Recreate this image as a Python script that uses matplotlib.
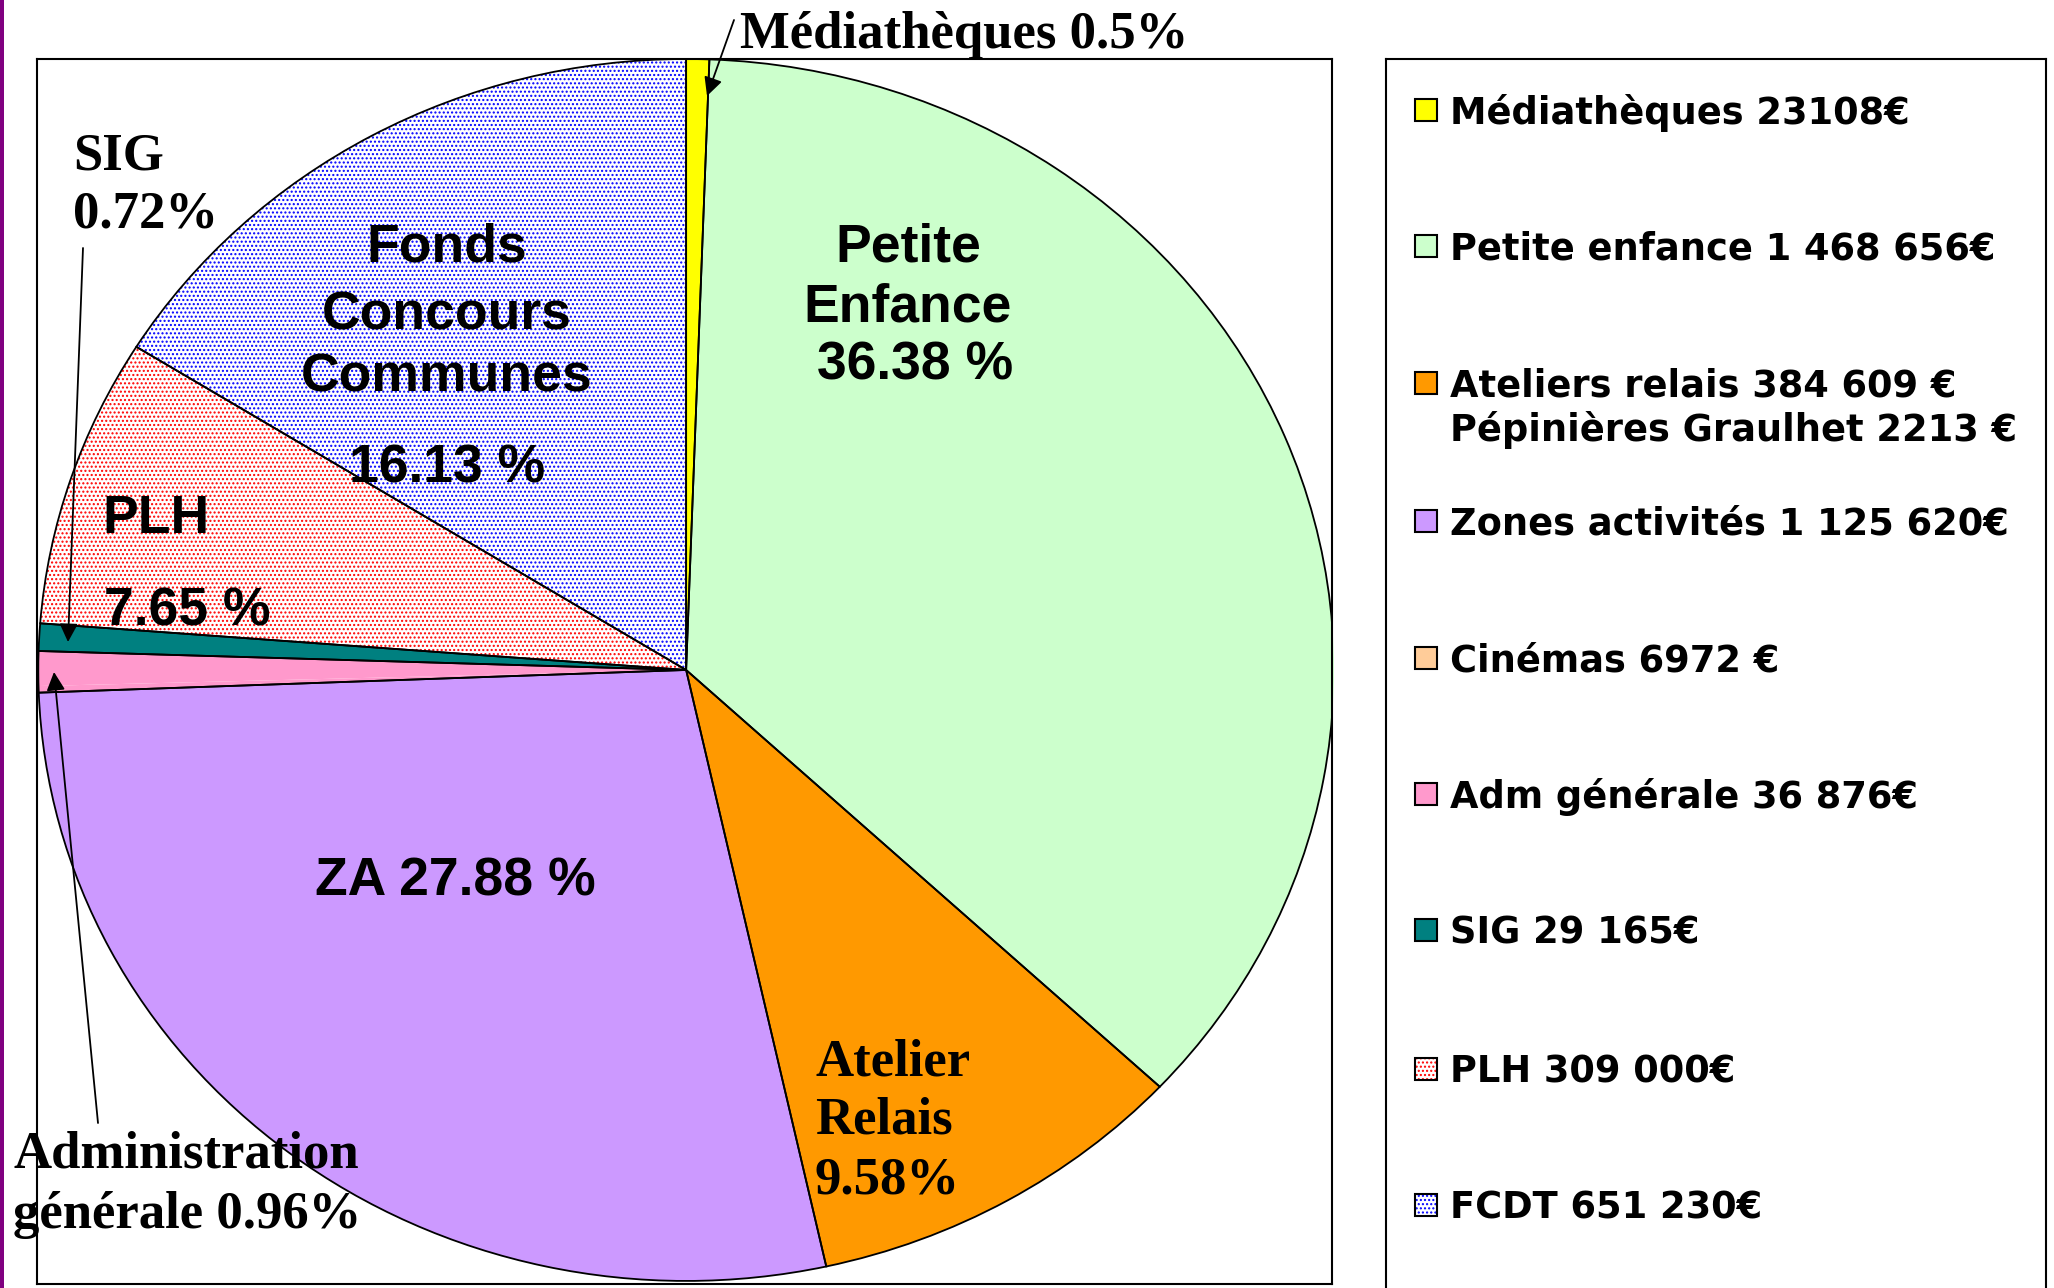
import matplotlib
matplotlib.use('Agg')
import matplotlib.pyplot as plt
from matplotlib.patches import Rectangle, Wedge

W, H = 2054, 1288

# ---------------- data ----------------
categories = ['Médiathèques', 'Petite enfance', 'Ateliers relais', 'Zones activités',
              'Cinémas', 'Adm générale', 'SIG', 'PLH', 'FCDT']
ateliers_relais = 384609
pepinieres_graulhet = 2213
values = [23108, 1468656, ateliers_relais + pepinieres_graulhet, 1125620,
          6972, 36876, 29165, 309000, 651230]
legend_labels = ['Médiathèques 23108€', 'Petite enfance 1 468 656€',
                 'Ateliers relais 384 609 €\nPépinières Graulhet 2213 €',
                 'Zones activités 1 125 620€', 'Cinémas 6972 €', 'Adm générale 36 876€',
                 'SIG 29 165€', 'PLH 309 000€', 'FCDT 651 230€']
colors = ['#FFFF00', '#CCFFCC', '#FF9900', '#CC99FF', '#FFCC99', '#FF99CC',
          '#008080', '#FFFFFF', '#FFFFFF']
# in the reference pie the tiny Cinémas slice is not distinguishable from the pink one
pie_colors = ['#FFFF00', '#CCFFCC', '#FF9900', '#CC99FF', '#FF99CC', '#FF99CC',
              '#008080', '#FFFFFF', '#FFFFFF']
hatch_colors = [None, None, None, None, None, None, None, '#FF0000', '#0000FF']

plt.rcParams['hatch.linewidth'] = 1.0

fig = plt.figure(figsize=(W / 100, H / 100), dpi=100)
fig.patch.set_facecolor('white')


def fx(px):
    return px / W


def fy(py):
    return 1 - py / H


# purple strip at the left edge
fig.add_artist(Rectangle((0, 0), 4 / W, 1, transform=fig.transFigure,
                         facecolor='#800080', edgecolor='none'))

# ---------------- pie ----------------
ax = fig.add_axes([fx(37), fy(1284), (1332 - 37) / W, (1284 - 59) / H])
wedges, _ = ax.pie(values, colors=pie_colors, startangle=90, counterclock=False,
                   radius=1, frame=True,
                   wedgeprops=dict(edgecolor='none', linewidth=0))
ax.set_aspect('auto')
ax.set_xlim(-1.002, 0.997)
ax.set_ylim(-1.005, 1.0)
ax.set_xticks([])
ax.set_yticks([])
for s in ax.spines.values():
    s.set_linewidth(1.5)
    s.set_color('black')

for w, hc in zip(wedges, hatch_colors):
    if hc is None:
        continue
    w.set_facecolor('white')
    w.set_hatch('....')
    w.set_edgecolor(hc)
    w.set_linewidth(0)

# black outlines (Cinémas and Adm générale share one outline)
groups = [[0], [1], [2], [3], [4, 5], [6], [7], [8]]
for g in groups:
    t1 = min(wedges[i].theta1 for i in g)
    t2 = max(wedges[i].theta2 for i in g)
    ax.add_patch(Wedge(wedges[g[0]].center, wedges[g[0]].r, t1, t2,
                       facecolor='none', edgecolor='black', linewidth=1.3,
                       zorder=wedges[g[0]].get_zorder() + 0.1))

# ---------------- pie labels ----------------
sans = dict(family='Liberation Sans', weight='bold', fontsize=38.5, color='black')
serif = dict(family='Liberation Serif', weight='bold', fontsize=38, color='black')

fig.text(fx(908), fy(248), 'Petite', ha='center', va='center', **sans)
fig.text(fx(908), fy(307), 'Enfance', ha='center', va='center', **sans)
fig.text(fx(915), fy(366), '36.38 %', ha='center', va='center', **sans)
for txt, y in [('Fonds', 248), ('Concours', 316), ('Communes', 377), ('16.13 %', 469)]:
    fig.text(fx(447), fy(y), txt, ha='center', va='center', **sans)
fig.text(fx(156), fy(519), 'PLH', ha='center', va='center', **sans)
fig.text(fx(187), fy(611), '7.65 %', ha='center', va='center', **sans)
fig.text(fx(455), fy(882), 'ZA 27.88 %', ha='center', va='center', **sans)

for txt, y in [('Atelier', 1062), ('Relais', 1121), ('9.58%', 1181)]:
    fig.text(fx(815), fy(y), txt, ha='left', va='center', **serif)
fig.text(fx(73), fy(156), 'SIG', ha='left', va='center', **serif)
fig.text(fx(73), fy(214), '0.72%', ha='left', va='center', **serif)
fig.text(fx(13), fy(1154), 'Administration', ha='left', va='center', **serif)
fig.text(fx(13), fy(1215), 'générale 0.96%', ha='left', va='center', **serif)
fig.text(fx(740), fy(35), 'Médiathèques 0.5%', ha='left', va='center', **serif)

arrow = dict(arrowstyle='-|>', color='black', lw=1.3, mutation_scale=28,
             shrinkA=0, shrinkB=0)
for (x0, y0), (x1, y1) in [((734, 20), (707, 96)),
                           ((83, 248), (68, 642)),
                           ((98, 1123), (54, 672))]:
    ax.annotate('', xy=(fx(x1), fy(y1)), xycoords='figure fraction',
                xytext=(fx(x0), fy(y0)), textcoords='figure fraction',
                arrowprops=arrow, annotation_clip=False)

# ---------------- legend ----------------
lax = fig.add_axes([fx(1386), -0.02, (2046 - 1386) / W, fy(59) + 0.02])
lax.set_xticks([])
lax.set_yticks([])
for s in lax.spines.values():
    s.set_linewidth(1.5)
    s.set_color('black')

entry_y = [110, 246, 383, 521, 658, 794, 930, 1069, 1205]
sq = 22
for lab, col, hc, y in zip(legend_labels, colors, hatch_colors, entry_y):
    if hc is None:
        fig.add_artist(Rectangle((fx(1415), fy(y + sq / 2)), sq / W, sq / H,
                                 transform=fig.transFigure, facecolor=col,
                                 edgecolor='black', linewidth=1.5))
    else:
        fig.add_artist(Rectangle((fx(1415), fy(y + sq / 2)), sq / W, sq / H,
                                 transform=fig.transFigure, facecolor='white',
                                 edgecolor=hc, hatch='....', linewidth=0))
        fig.add_artist(Rectangle((fx(1415), fy(y + sq / 2)), sq / W, sq / H,
                                 transform=fig.transFigure, facecolor='none',
                                 edgecolor='black', linewidth=1.5))
    for i, line in enumerate(lab.split('\n')):
        fig.text(fx(1450), fy(y + 3 + i * 44), line, ha='left', va='center',
                 family='DejaVu Sans', weight='bold', fontsize=26.5, color='black')

fig.savefig('out.png', dpi=100, facecolor='white')
